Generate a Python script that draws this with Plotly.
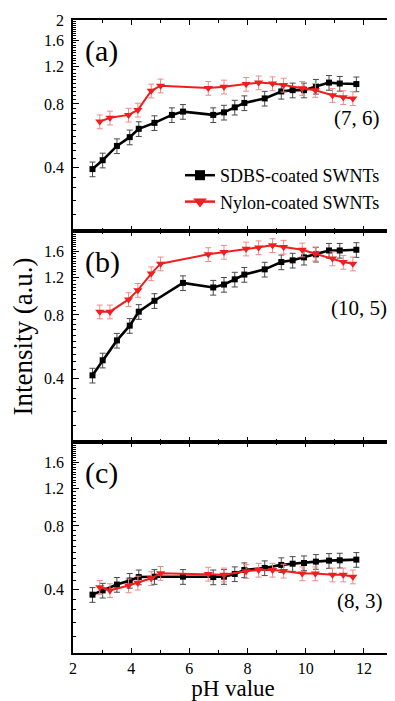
import numpy as np
import plotly.graph_objects as go
from plotly.subplots import make_subplots

# ---------------- data ----------------
ph_sdbs_a = [2.67, 3.02, 3.51, 3.95, 4.26, 4.80, 5.40, 5.78, 6.82, 7.19, 7.56, 7.89,
             8.59, 9.16, 9.55, 9.94, 10.35, 10.80, 11.17, 11.74]
ph_sdbs_bc = [2.67, 3.02, 3.51, 3.95, 4.26, 4.80, 5.78, 6.82, 7.19, 7.56, 7.89,
              8.59, 9.16, 9.55, 9.94, 10.35, 10.80, 11.17, 11.74]
ph_nylon = [2.92, 3.27, 3.91, 4.23, 4.69, 5.01, 6.65, 7.19, 7.95, 8.38, 8.86, 9.24,
            9.88, 10.33, 10.92, 11.29, 11.62]

sdbs_a = [0.393, 0.433, 0.506, 0.557, 0.61, 0.651, 0.71, 0.736, 0.71, 0.73, 0.771, 0.809,
          0.85, 0.917, 0.93, 0.93, 0.968, 1.01, 1.0, 0.994]
nylon_a = [0.66, 0.688, 0.71, 0.75, 0.924, 0.976, 0.951, 0.965, 0.994, 1.01, 1.0, 0.985,
           0.95, 0.93, 0.88, 0.86, 0.85]

sdbs_b = [0.414, 0.488, 0.606, 0.712, 0.829, 0.934, 1.135, 1.08, 1.115, 1.18, 1.243,
          1.316, 1.425, 1.452, 1.50, 1.55, 1.617, 1.617, 1.63]
nylon_b = [0.829, 0.829, 0.948, 1.049, 1.257, 1.40, 1.55, 1.59, 1.648, 1.67, 1.71, 1.68,
           1.63, 1.56, 1.48, 1.425, 1.40]

sdbs_c = [0.378, 0.396, 0.422, 0.441, 0.458, 0.46, 0.46, 0.458, 0.46, 0.474, 0.495,
          0.506, 0.523, 0.53, 0.534, 0.542, 0.548, 0.55, 0.554]
nylon_c = [0.41, 0.396, 0.4175, 0.43, 0.452, 0.478, 0.474, 0.47, 0.488, 0.495, 0.495,
           0.49, 0.476, 0.476, 0.47, 0.47, 0.46]

sdbs_err_pct = 8.0
nylon_err_pct = 7.5

panel_labels = ["(a)", "(b)", "(c)"]
chirality = ["(7, 6)", "(10, 5)", "(8, 3)"]
series_names = ["SDBS-coated SWNTs", "Nylon-coated SWNTs"]

y_major = [0.4, 0.8, 1.2, 1.6, 2.0]
y_major_text = ["0.4", "0.8", "1.2", "1.6", "2"]
x_major = [2, 4, 6, 8, 10, 12]

# ---------------- style ----------------
FONT = "Liberation Serif"
BLACK = "#000000"
RED = "#f01e1e"
BLACK_ERR = "#4a4a4a"
RED_ERR = "#f08a8a"

# page body has an 8px default margin: the figure is laid out to compensate
OFF = 8
W, H = 395 - OFF, 701 - OFF
ML, MR, MT, MB = 73 - OFF, 2, 20 - OFF, 48
PW, PH = W - ML - MR, H - MT - MB

fig = make_subplots(rows=3, cols=1, shared_xaxes=True, vertical_spacing=0)

sdbs_sets = [(ph_sdbs_a, sdbs_a), (ph_sdbs_bc, sdbs_b), (ph_sdbs_bc, sdbs_c)]
nylon_sets = [(ph_nylon, nylon_a), (ph_nylon, nylon_b), (ph_nylon, nylon_c)]

for i in range(3):
    r = i + 1
    xs, ys = sdbs_sets[i]
    fig.add_trace(go.Scatter(
        x=xs, y=ys, mode="lines+markers", showlegend=False,
        line=dict(color=BLACK, width=2.6),
        marker=dict(symbol="square", size=6, color=BLACK),
        error_y=dict(type="percent", value=sdbs_err_pct, color=BLACK_ERR,
                     thickness=1, width=3),
    ), row=r, col=1)
    xs, ys = nylon_sets[i]
    fig.add_trace(go.Scatter(
        x=xs, y=ys, mode="lines+markers", showlegend=False,
        line=dict(color=RED, width=2),
        marker=dict(symbol="triangle-down", size=8, color=RED),
        error_y=dict(type="percent", value=nylon_err_pct, color=RED_ERR,
                     thickness=1, width=3),
    ), row=r, col=1)

# legend-only traces
fig.add_trace(go.Scatter(x=[None], y=[None], mode="lines+markers", name=series_names[0],
                         legendgroup="g1",
                         line=dict(color=BLACK, width=2.5),
                         marker=dict(symbol="square", size=10, color=BLACK)), row=1, col=1)
fig.add_trace(go.Scatter(x=[None], y=[None], mode="lines+markers", name=series_names[1],
                         legendgroup="g2",
                         line=dict(color=RED, width=2.5),
                         marker=dict(symbol="triangle-down", size=12, color=RED)), row=1, col=1)

minor_vals = [v for v in np.round(np.arange(0.2, 2.0001, 0.04), 2) if v not in y_major]

for i in range(3):
    r = i + 1
    tv = y_major if i == 0 else y_major[:-1]
    tt = y_major_text if i == 0 else y_major_text[:-1]
    fig.update_yaxes(
        type="log", range=[np.log10(0.2), np.log10(2.0)],
        tickmode="array", tickvals=tv, ticktext=tt,
        ticks="inside", ticklen=6, tickwidth=1, tickcolor=BLACK,
        minor=dict(tickmode="array", tickvals=minor_vals, ticks="inside",
                   ticklen=3, tickwidth=1, tickcolor=BLACK),
        showline=True, linecolor=BLACK, linewidth=1.5, mirror=True,
        showgrid=False, zeroline=False,
        tickfont=dict(family=FONT, size=16, color=BLACK),
        ticklabelstandoff=4,
        row=r, col=1)
    fig.update_xaxes(
        range=[2, 13], tickmode="array", tickvals=x_major,
        ticks="inside", ticklen=5, tickwidth=1, tickcolor=BLACK,
        minor=dict(dtick=1, ticks="inside", ticklen=3, tickwidth=1, tickcolor=BLACK),
        showline=True, linecolor=BLACK, linewidth=1.5, mirror="allticks",
        showgrid=False, zeroline=False,
        showticklabels=(i == 2),
        tickfont=dict(family=FONT, size=16, color=BLACK),
        row=r, col=1)

fig.update_yaxes(title=dict(text="Intensity (a.u.)", standoff=12,
                            font=dict(family=FONT, size=27, color=BLACK)), row=2, col=1)
fig.update_xaxes(title=dict(text="pH value", standoff=3,
                            font=dict(family=FONT, size=23, color=BLACK)), row=3, col=1)


def px_to_paper(px, py):
    # px, py in page pixels of the 395x701 window
    return (px - OFF - ML) / PW, (H - MB - (py - OFF)) / PH


panel_h = PH / 3
annots = []
for i in range(3):
    top = 20 + i * panel_h
    ax, ay = px_to_paper(83, top + 31)
    annots.append(dict(text=panel_labels[i], x=ax, y=ay, xref="paper", yref="paper",
                       xanchor="left", yanchor="middle", showarrow=False,
                       font=dict(family=FONT, size=30, color=BLACK)))
cpos = [(357, 118), (359, 308), (360, 601)]
for i in range(3):
    cx, cy = px_to_paper(*cpos[i])
    annots.append(dict(text=chirality[i], x=cx, y=cy, xref="paper", yref="paper",
                       xanchor="center", yanchor="middle", showarrow=False,
                       font=dict(family=FONT, size=21, color=BLACK)))

lx, ly = px_to_paper(180, 157)
fig.update_layout(
    width=W, height=H,
    margin=dict(l=ML, r=MR, t=MT, b=MB, autoexpand=False),
    paper_bgcolor="white", plot_bgcolor="white",
    annotations=annots,
    legend=dict(x=lx, y=ly, xanchor="left", yanchor="top", bgcolor="rgba(0,0,0,0)",
                font=dict(family=FONT, size=18, color=BLACK),
                traceorder="grouped", tracegroupgap=0, borderwidth=0),
    font=dict(family=FONT, color=BLACK),
)

fig.write_html("out.html")
